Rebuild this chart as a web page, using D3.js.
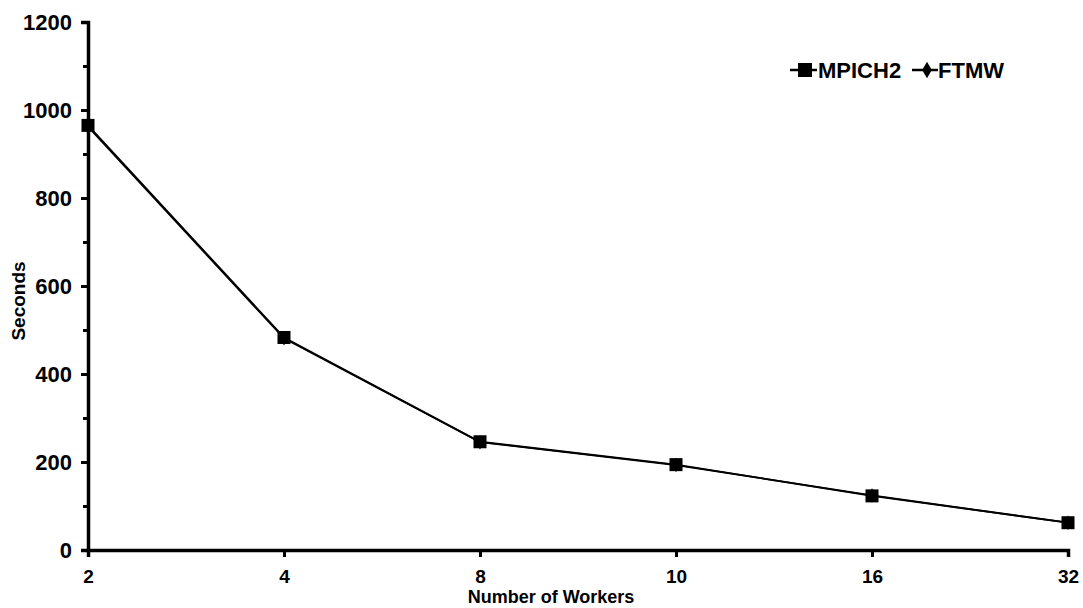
<!DOCTYPE html>
<html>
<head>
<meta charset="utf-8">
<script src="https://cdn.jsdelivr.net/npm/d3@7"></script>
<style>
  body{margin:0;background:#fff;}
  text{font-family:"Liberation Sans",Arial,sans-serif;fill:#000;}
</style>
</head>
<body>
<div id="chart"></div>
<script>
const workers = ["2","4","8","10","16","32"]
const mpich2 = [965,483,246,194,123,62]
const ftmw = [962,481,245,193,124,62]
const yTicks = [0,200,400,600,800,1000,1200]
const yMinor = [100,300,500,700,900,1100]

let width = 1083,
    height = 608,
    margin = {top:22,left:88,right:15,bottom:58},
    innerW = width - margin.left - margin.right,
    innerH = height - margin.top - margin.bottom

const svg = d3.select("#chart").append("svg")
  .attr("width",width).attr("height",height)
  .style("background-color","#fff")
const g = svg.append("g").attr("transform",`translate(${margin.left},${margin.top})`)

const x = d3.scalePoint().domain(workers).range([0,innerW])
const y = d3.scaleLinear().domain([0,1200]).range([innerH,0])

// minor ticks on y
g.append("g").call(d3.axisLeft(y).tickValues(yMinor).tickSize(5).tickFormat(""))
  .call(a=>a.select(".domain").remove())
  .selectAll("line").attr("stroke-width",3)

const yGroup = g.append("g").call(d3.axisLeft(y).tickValues(yTicks).tickSize(7).tickPadding(9).tickFormat(d3.format("d")))
yGroup.select(".domain").attr("stroke-width",3.5)
yGroup.selectAll(".tick line").attr("stroke-width",3)
yGroup.selectAll(".tick text").style("font-size","22px").style("font-weight","bold")

const xGroup = g.append("g").attr("transform",`translate(0,${innerH})`)
  .call(d3.axisBottom(x).tickSize(7).tickPadding(13))
xGroup.select(".domain").attr("stroke-width",3.5)
xGroup.selectAll(".tick line").attr("stroke-width",3)
xGroup.selectAll(".tick text").style("font-size","19px").style("font-weight","bold")

const line = d3.line().x((d,i)=>x(workers[i])).y(d=>y(d))

g.append("path").datum(ftmw).attr("d",line).attr("fill","none").attr("stroke","#000").attr("stroke-width",1.8)
g.append("path").datum(mpich2).attr("d",line).attr("fill","none").attr("stroke","#000").attr("stroke-width",1.8)

g.selectAll(".ftmw").data(ftmw).enter().append("path").attr("class","ftmw")
  .attr("d",d3.symbol(d3.symbolDiamond,60))
  .attr("transform",(d,i)=>`translate(${x(workers[i])},${y(d)})`)
g.selectAll(".mpich").data(mpich2).enter().append("rect").attr("class","mpich")
  .attr("x",(d,i)=>x(workers[i])-6.5).attr("y",d=>y(d)-6.5)
  .attr("width",13).attr("height",13).attr("fill","#000")

// legend
const leg = svg.append("g").attr("transform","translate(790,70)")
leg.append("line").attr("x1",0).attr("x2",27).attr("stroke","#000").attr("stroke-width",2.5)
leg.append("rect").attr("x",8).attr("y",-7).attr("width",14).attr("height",14)
leg.append("text").attr("x",28).attr("y",8).text("MPICH2").style("font-size","22px").style("font-weight","bold")
leg.append("line").attr("x1",122).attr("x2",148).attr("stroke","#000").attr("stroke-width",2.5)
leg.append("path").attr("d",d3.symbol(d3.symbolDiamond,80)).attr("transform","translate(137,0)")
leg.append("text").attr("x",148).attr("y",8).text("FTMW").style("font-size","22px").style("font-weight","bold")

svg.append("text").attr("x",551).attr("y",603).attr("text-anchor","middle")
  .text("Number of Workers").style("font-size","18px").style("font-weight","bold")
svg.append("text").attr("transform",`translate(25,301) rotate(-90)`)
  .attr("text-anchor","middle").text("Seconds").style("font-size","19px").style("font-weight","bold")
</script>
</body>
</html>
